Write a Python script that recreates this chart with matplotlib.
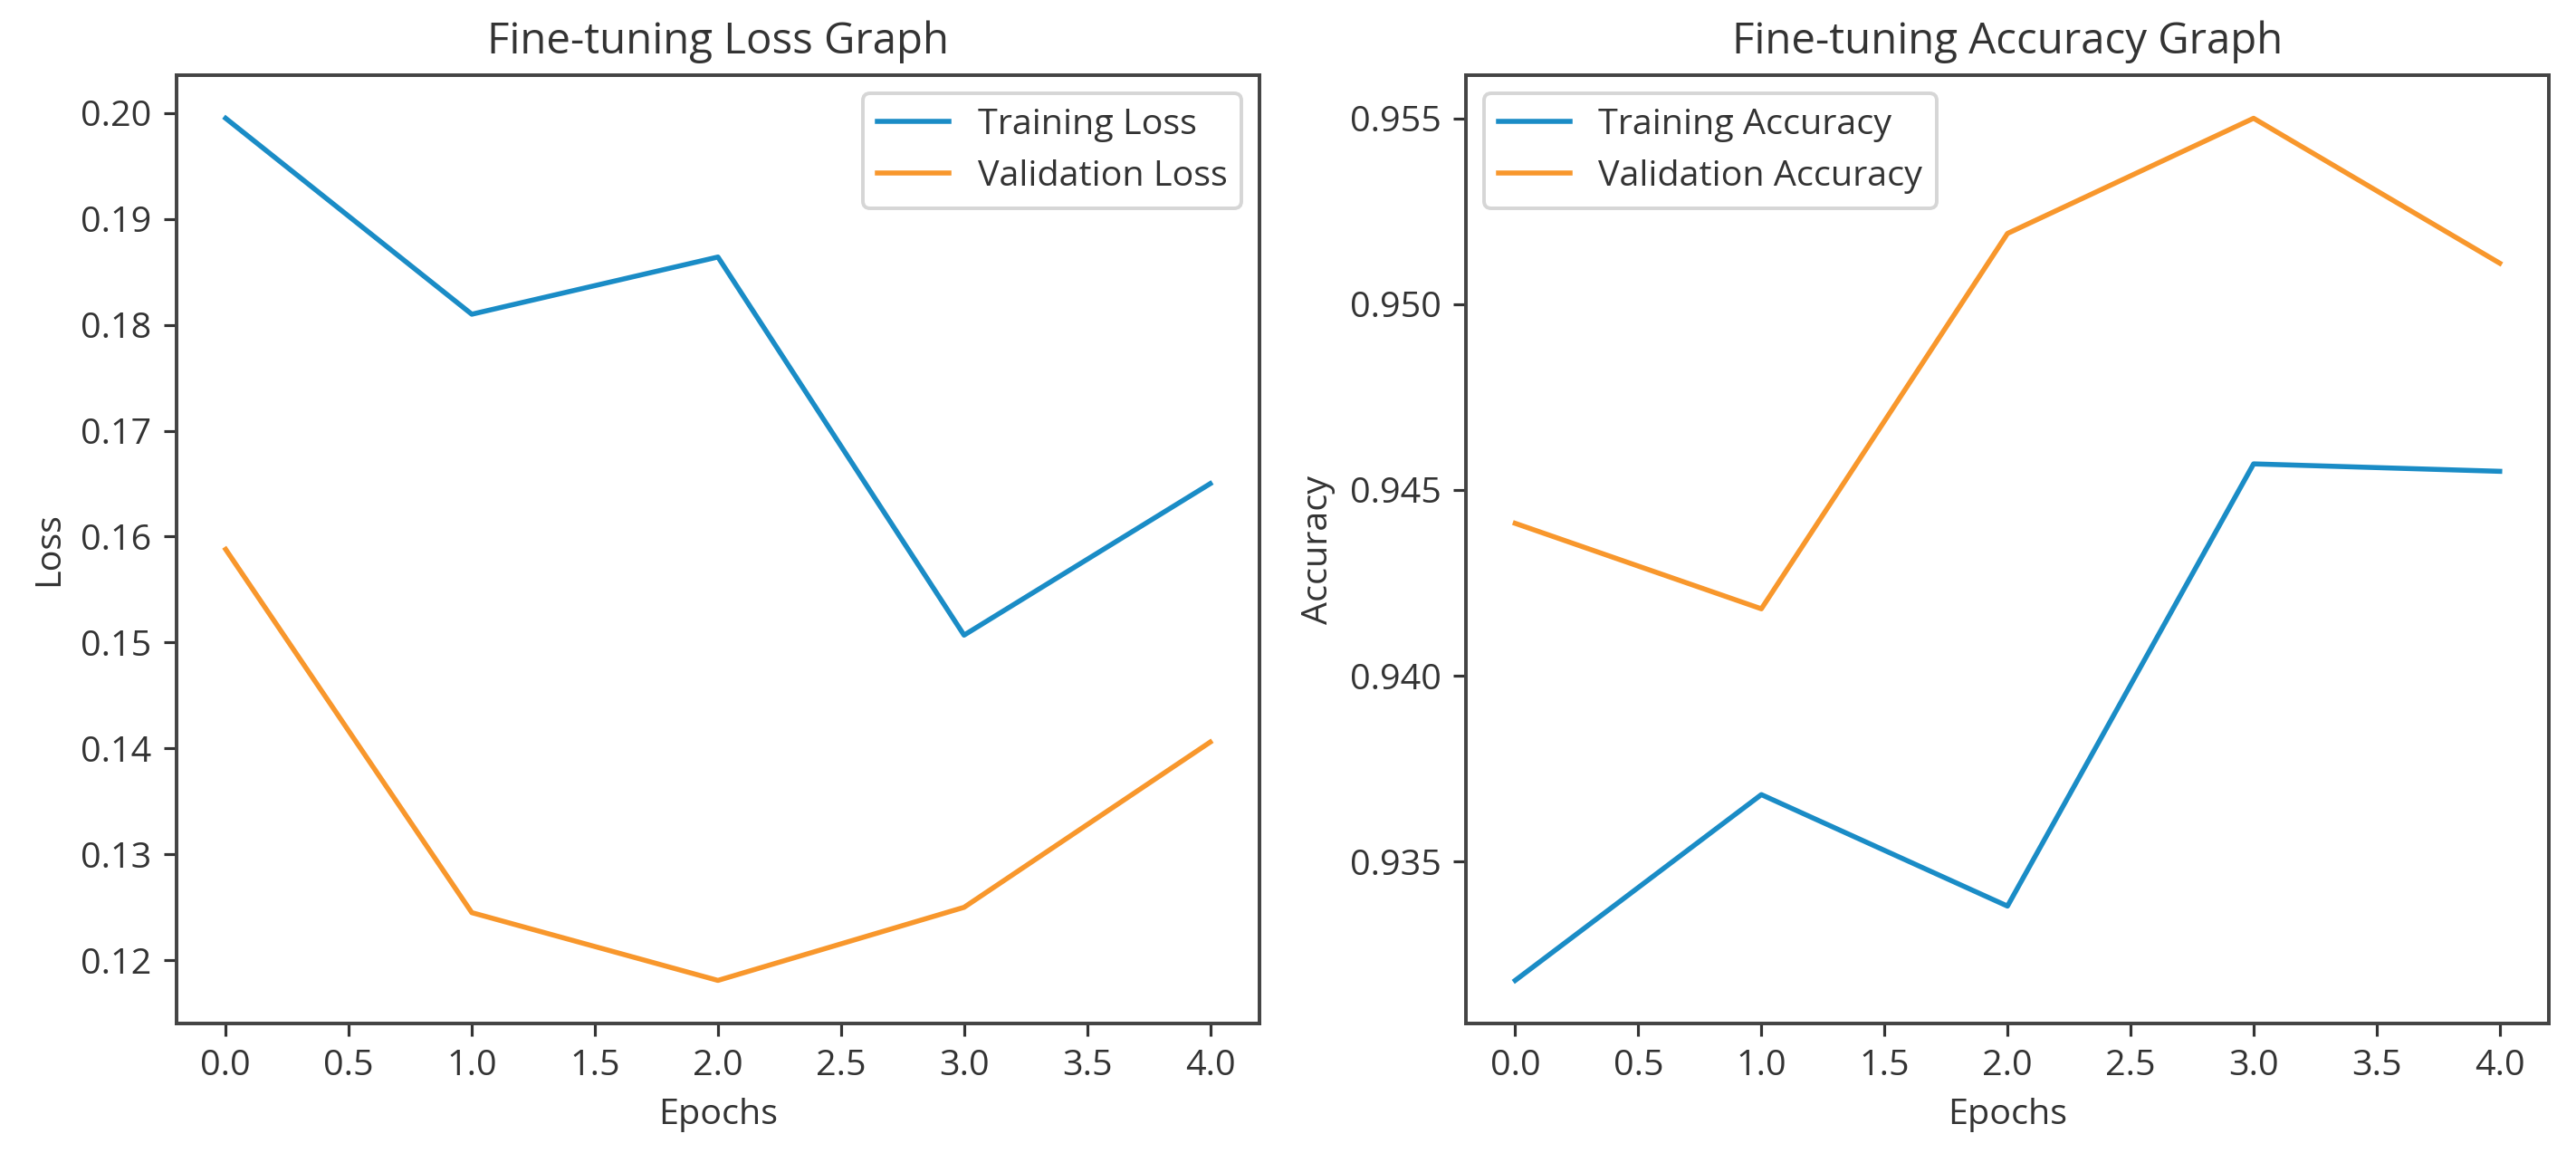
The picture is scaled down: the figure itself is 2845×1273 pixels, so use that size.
import numpy as np
import matplotlib
matplotlib.use("Agg")
import matplotlib.pyplot as plt
from matplotlib.ticker import FormatStrFormatter

plt.rcParams['font.family'] = ['Open Sans', 'DejaVu Sans']

epochs = [0, 1, 2, 3, 4]

train_loss = [0.1995, 0.1810, 0.1864, 0.1507, 0.1650]
val_loss = [0.1588, 0.1245, 0.1181, 0.1250, 0.1406]

train_acc = [0.9318, 0.9368, 0.9338, 0.9457, 0.9455]
val_acc = [0.9441, 0.9418, 0.9519, 0.9550, 0.9511]

blue = '#1a8cc6'
orange = '#f8972c'
text_col = '#333333'

dpi = 284.5
fig = plt.figure(figsize=(2845 / dpi, 1273 / dpi), dpi=dpi)
# two equal-width panels, as a tight_layout would give
ax1 = fig.add_axes([0.0685, 0.1123, 0.4204, 0.8225])
ax2 = fig.add_axes([0.5691, 0.1123, 0.4204, 0.8225])


def style(ax):
    for s in ax.spines.values():
        s.set_color('#444444')
        s.set_linewidth(1.0)
    ax.tick_params(colors=text_col, labelsize=10)
    ax.set_xticks(np.arange(0, 4.01, 0.5))


ax1.plot(epochs, train_loss, color=blue, lw=1.4, label='Training Loss')
ax1.plot(epochs, val_loss, color=orange, lw=1.4, label='Validation Loss')
ax1.set_title('Fine-tuning Loss Graph', fontsize=12, color=text_col)
ax1.set_xlabel('Epochs', fontsize=10, color=text_col)
ax1.set_ylabel('Loss', fontsize=10, color=text_col)
ax1.yaxis.set_major_formatter(FormatStrFormatter('%.2f'))
style(ax1)
ax1.legend(loc='upper right', fontsize=10, labelcolor=text_col)

ax2.plot(epochs, train_acc, color=blue, lw=1.4, label='Training Accuracy')
ax2.plot(epochs, val_acc, color=orange, lw=1.4, label='Validation Accuracy')
ax2.set_title('Fine-tuning Accuracy Graph', fontsize=12, color=text_col)
ax2.set_xlabel('Epochs', fontsize=10, color=text_col)
ax2.set_ylabel('Accuracy', fontsize=10, color=text_col)
ax2.yaxis.set_major_formatter(FormatStrFormatter('%.3f'))
style(ax2)
ax2.legend(loc='upper left', fontsize=10, labelcolor=text_col)

fig.savefig('out.png', dpi=dpi)
